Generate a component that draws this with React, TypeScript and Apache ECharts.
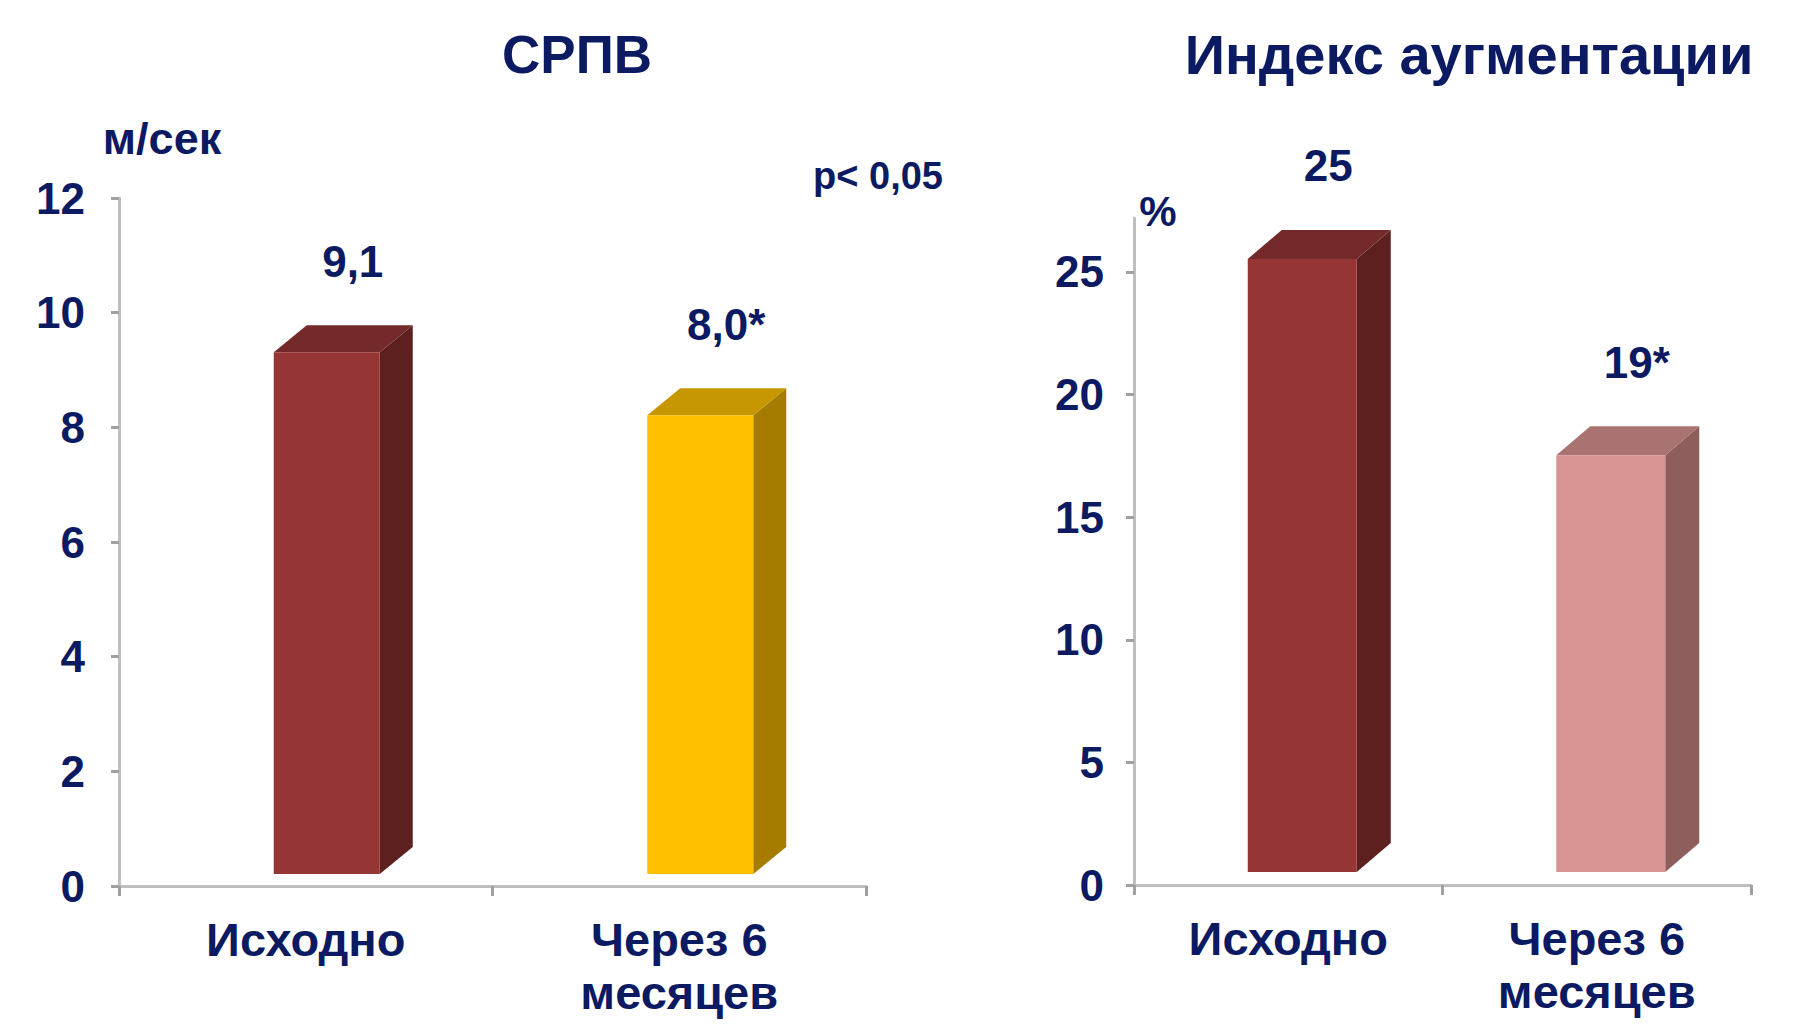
import React, { useEffect, useRef } from "react";
import * as echarts from "echarts";

const categories = ["Исходно", "Через 6\nмесяцев"];
const pwvValues = [9.1, 8.0];
const pwvLabels = ["9,1", "8,0*"];
const aixValues = [25, 17];
const aixLabels = ["25", "19*"];
const pwvTicks = [0, 2, 4, 6, 8, 10, 12];
const aixTicks = [0, 5, 10, 15, 20, 25];

const NAVY = "#0c1a62";
const FONT = "'Liberation Sans', Arial, sans-serif";
const AXIS = "#bfbfbf";

const pwvColors = [
  { front: "#963535", side: "#5e1f1f", top: "#742a2a" },
  { front: "#ffc000", side: "#a67c00", top: "#c69700" },
];
const aixColors = [
  { front: "#963535", side: "#5e1f1f", top: "#742a2a" },
  { front: "#d99594", side: "#8d5e5c", top: "#a87371" },
];

function makeRender(colors: any[], labels: string[], opt: { w: number; off: number; dx: number; dy: number; lift: number }) {
  return (params: any, api: any) => {
    const idx = api.value(0);
    const val = api.value(1);
    const base = api.coord([idx, 0]);
    const top = api.coord([idx, val]);
    const h = base[1] - top[1];
    const cx = base[0] + opt.off;
    const fb = base[1] - opt.lift;
    const ft = fb - h;
    const l = cx - opt.w / 2;
    const r = cx + opt.w / 2;
    const c = colors[params.dataIndex];
    return {
      type: "group",
      children: [
        {
          type: "polygon",
          shape: { points: [[r, fb], [r, ft], [r + opt.dx, ft - opt.dy], [r + opt.dx, fb - opt.dy]] },
          style: { fill: c.side },
        },
        {
          type: "polygon",
          shape: { points: [[l, ft], [r, ft], [r + opt.dx, ft - opt.dy], [l + opt.dx, ft - opt.dy]] },
          style: { fill: c.top },
        },
        { type: "rect", shape: { x: l, y: ft, width: opt.w, height: h }, style: { fill: c.front } },
        {
          type: "text",
          x: cx + 26,
          y: ft - opt.dy - 64,
          style: {
            text: labels[params.dataIndex],
            fill: NAVY,
            font: `bold 44px ${FONT}`,
            align: "center",
            verticalAlign: "middle",
          },
        },
      ],
    };
  };
}

function yAxisOf(gridIndex: number, max: number, interval: number, ticks: number[], margin: number) {
  return {
    type: "value",
    gridIndex,
    min: 0,
    max,
    interval,
    axisLine: { show: true, lineStyle: { color: AXIS, width: 3 } },
    axisTick: { show: true, length: 8, lineStyle: { color: "#a0a0a0", width: 3 }, customValues: ticks },
    axisLabel: { color: NAVY, fontSize: 44, fontWeight: "bold", fontFamily: FONT, margin, customValues: ticks },
    splitLine: { show: false },
  };
}

function xAxisOf(gridIndex: number) {
  return {
    type: "category",
    gridIndex,
    data: categories,
    axisLine: { show: true, lineStyle: { color: AXIS, width: 3 } },
    axisTick: { show: true, length: 10, lineStyle: { color: "#a0a0a0", width: 3 } },
    axisLabel: {
      interval: 0,
      color: NAVY,
      fontSize: 47,
      fontWeight: "bold",
      fontFamily: FONT,
      margin: 27,
      lineHeight: 53,
    },
  };
}

export default function App() {
  const ref = useRef<HTMLDivElement>(null);
  useEffect(() => {
    if (!ref.current) return;
    const chart = echarts.init(ref.current, undefined, { renderer: "svg" });
    chart.setOption({
      animation: false,
      backgroundColor: "#ffffff",
      grid: [
        { left: 119, top: 198, width: 747, height: 688 },
        { left: 1134, top: 218, width: 617, height: 667 },
      ],
      xAxis: [xAxisOf(0), xAxisOf(1)],
      yAxis: [yAxisOf(0, 12, 2, pwvTicks, 34), yAxisOf(1, 27.2, 5, aixTicks, 30)],
      series: [
        {
          type: "custom",
          xAxisIndex: 0,
          yAxisIndex: 0,
          clip: false,
          renderItem: makeRender(pwvColors, pwvLabels, { w: 106, off: 21, dx: 33, dy: 27, lift: 12 }),
          data: pwvValues.map((v, i) => [i, v]),
        },
        {
          type: "custom",
          xAxisIndex: 1,
          yAxisIndex: 1,
          clip: false,
          renderItem: makeRender(aixColors, aixLabels, { w: 109, off: 14, dx: 34, dy: 29, lift: 13 }),
          data: aixValues.map((v, i) => [i, v]),
        },
      ],
      graphic: [
        {
          type: "text",
          x: 577,
          y: 54,
          style: { text: "СРПВ", fill: NAVY, font: `bold 53px ${FONT}`, align: "center", verticalAlign: "middle" },
        },
        {
          type: "text",
          x: 1469,
          y: 54,
          style: { text: "Индекс аугментации", fill: NAVY, font: `bold 56px ${FONT}`, align: "center", verticalAlign: "middle" },
        },
        {
          type: "text",
          x: 162,
          y: 138,
          style: { text: "м/сек", fill: NAVY, font: `bold 45px ${FONT}`, align: "center", verticalAlign: "middle" },
        },
        {
          type: "text",
          x: 878,
          y: 176,
          style: { text: "p< 0,05", fill: NAVY, font: `bold 38px ${FONT}`, align: "center", verticalAlign: "middle" },
        },
        {
          type: "text",
          x: 1158,
          y: 211,
          style: { text: "%", fill: NAVY, font: `bold 42px ${FONT}`, align: "center", verticalAlign: "middle" },
        },
      ],
    });
    return () => chart.dispose();
  }, []);
  return <div ref={ref} style={{ position: "fixed", left: 0, top: 0, width: 1806, height: 1025 }} />;
}
